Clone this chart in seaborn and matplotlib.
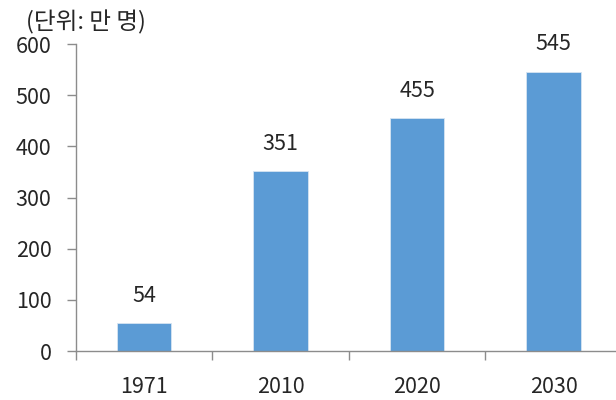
import matplotlib
matplotlib.use('Agg')
import matplotlib.pyplot as plt
import seaborn as sns
import pandas as pd
from matplotlib.ticker import FixedLocator

# chart values
years = ['1971', '2010', '2020', '2030']
people = [54, 351, 455, 545]
unit_label = '(단위: 만 명)'

df = pd.DataFrame({'year': years, 'people': people})

sns.set_style('white')
plt.rcParams['font.family'] = ['Noto Sans CJK KR', 'DejaVu Sans']
fs = 15.5

fig = plt.figure(figsize=(6.16, 4.0), dpi=100)
ax = fig.add_axes([0.123, 0.1225, 0.877, 0.7675])

sns.barplot(data=df, x='year', y='people', color='#5B9BD5', saturation=1,
            width=0.40, edgecolor='#D6E4F2', linewidth=0.6, ax=ax)

ax.set_ylim(0, 600)
ax.set_xlim(-0.5, 3.456)
ax.set_yticks(range(0, 601, 100))
ax.set_xlabel('')
ax.set_ylabel('')

for s in ['top', 'right']:
    ax.spines[s].set_visible(False)
for s in ['left', 'bottom']:
    ax.spines[s].set_color('#8C8C8C')
    ax.spines[s].set_linewidth(1.0)

ax.tick_params(axis='y', which='major', direction='out', length=6.5, width=1,
               color='#8C8C8C', pad=11, labelsize=fs, left=True)
ax.tick_params(axis='x', which='major', length=0, pad=18, labelsize=fs)
ax.xaxis.set_minor_locator(FixedLocator([0.5, 1.5, 2.5, -0.5]))
ax.tick_params(axis='x', which='minor', direction='out', length=6.5, width=1,
               color='#8C8C8C', bottom=True)

ax.bar_label(ax.containers[0], labels=[str(v) for v in people],
             padding=12, fontsize=fs)

fig.text(0.042, 0.943, unit_label, fontsize=17, va='center', ha='left')

fig.savefig('out.png', dpi=100)
